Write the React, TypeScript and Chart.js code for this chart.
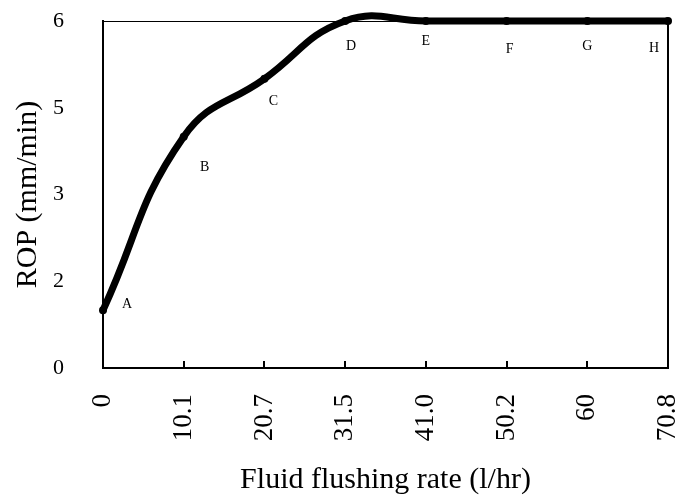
import React, { useEffect, useRef } from "react";
import { Chart, registerables } from "chart.js";

Chart.register(...registerables);

const categories = ["0", "10.1", "20.7", "31.5", "41.0", "50.2", "60", "70.8"];
const ropValues = [1.0, 4.0, 5.0, 6.0, 6.0, 6.0, 6.0, 6.0];
const pointLabels = ["A", "B", "C", "D", "E", "F", "G", "H"];
const yTickValues = [0, 1.5, 3, 4.5, 6];
const yTickLabels = ["0", "2", "3", "5", "6"];
const xTitle = "Fluid flushing rate (l/hr)";
const yTitle = "ROP (mm/min)";

const SERIF = "'Liberation Serif', 'Times New Roman', serif";
const LABEL_SHIFT: [number, number][] = [
  [24, -6], [21, 31], [9, 22], [6, 25], [0, 20], [3, 28], [0, 25], [-14, 27],
];

const framePlugin = {
  id: "frame",
  beforeDatasetsDraw(chart: any) {
    const { ctx, chartArea } = chart;
    const { left, right, top, bottom } = chartArea;
    const xs = chart.scales.x;
    ctx.save();
    ctx.strokeStyle = "#000";
    ctx.lineWidth = 1.2;
    ctx.beginPath();
    ctx.moveTo(left, top + 0.5);
    ctx.lineTo(right, top + 0.5);
    ctx.stroke();
    ctx.lineWidth = 2;
    ctx.beginPath();
    ctx.moveTo(right, top);
    ctx.lineTo(right, bottom);
    ctx.stroke();
    for (let i = 1; i < categories.length - 1; i++) {
      const px = Math.round(xs.getPixelForValue(i));
      ctx.beginPath();
      ctx.moveTo(px, bottom);
      ctx.lineTo(px, bottom - 7);
      ctx.stroke();
    }
    ctx.restore();
  },
};

const labelPlugin = {
  id: "pointLetters",
  afterDatasetsDraw(chart: any) {
    const { ctx } = chart;
    const meta = chart.getDatasetMeta(0);
    ctx.save();
    ctx.fillStyle = "#000";
    ctx.font = `14px ${SERIF}`;
    ctx.textAlign = "center";
    ctx.textBaseline = "middle";
    meta.data.forEach((el: any, i: number) => {
      const [dx, dy] = LABEL_SHIFT[i];
      ctx.fillText(pointLabels[i], el.x + dx, el.y + dy);
    });
    ctx.restore();
  },
};

function zeroPadding(scale: any) {
  scale.paddingLeft = 0;
  scale.paddingRight = 0;
  scale.paddingTop = 0;
  scale.paddingBottom = 0;
}

export default function App() {
  const ref = useRef<HTMLCanvasElement | null>(null);
  useEffect(() => {
    if (!ref.current) return;
    const chart = new Chart(ref.current, {
      type: "line",
      data: {
        labels: categories,
        datasets: [
          {
            data: ropValues,
            borderColor: "#000",
            backgroundColor: "#000",
            borderWidth: 7,
            pointRadius: 4,
            pointBorderWidth: 0,
            pointBackgroundColor: "#000",
            tension: 0.45,
            capBezierPoints: false,
            clip: false as any,
          },
        ],
      },
      options: {
        animation: false,
        responsive: false,
        devicePixelRatio: 1,
        layout: { padding: { top: 21, right: 20, left: 0, bottom: 0 } },
        plugins: { legend: { display: false }, tooltip: { enabled: false } },
        scales: {
          x: {
            type: "category",
            offset: false,
            grid: { display: false },
            border: { display: true, color: "#000", width: 2 },
            ticks: {
              color: "#000",
              autoSkip: false,
              minRotation: 90,
              maxRotation: 90,
              padding: 18,
              font: { family: SERIF, size: 27 },
            },
            title: {
              display: true,
              text: xTitle,
              color: "#000",
              font: { family: SERIF, size: 30, lineHeight: 1 },
              padding: { top: 0, bottom: 0 },
            },
            afterFit(scale: any) {
              scale.height = 127;
              zeroPadding(scale);
            },
          },
          y: {
            type: "linear",
            min: 0,
            max: 6,
            grid: { display: false },
            border: { display: true, color: "#000", width: 2 },
            afterBuildTicks(scale: any) {
              scale.ticks = yTickValues.map((v) => ({ value: v }));
            },
            ticks: {
              color: "#000",
              padding: 31,
              font: { family: SERIF, size: 22 },
              callback: (v: any) => {
                const idx = yTickValues.indexOf(Number(v));
                return idx >= 0 ? yTickLabels[idx] : "";
              },
            },
            title: {
              display: true,
              text: yTitle,
              color: "#000",
              font: { family: SERIF, size: 30, lineHeight: 1 },
              padding: { top: 13, bottom: 0 },
            },
            afterFit(scale: any) {
              scale.width = 103;
              zeroPadding(scale);
            },
          },
        },
      },
      plugins: [framePlugin, labelPlugin],
    });
    return () => chart.destroy();
  }, []);
  return (
    <div style={{ position: "absolute", left: 0, top: 0, width: 688, height: 495, background: "#fff" }}>
      <canvas ref={ref} width={688} height={495} />
    </div>
  );
}
